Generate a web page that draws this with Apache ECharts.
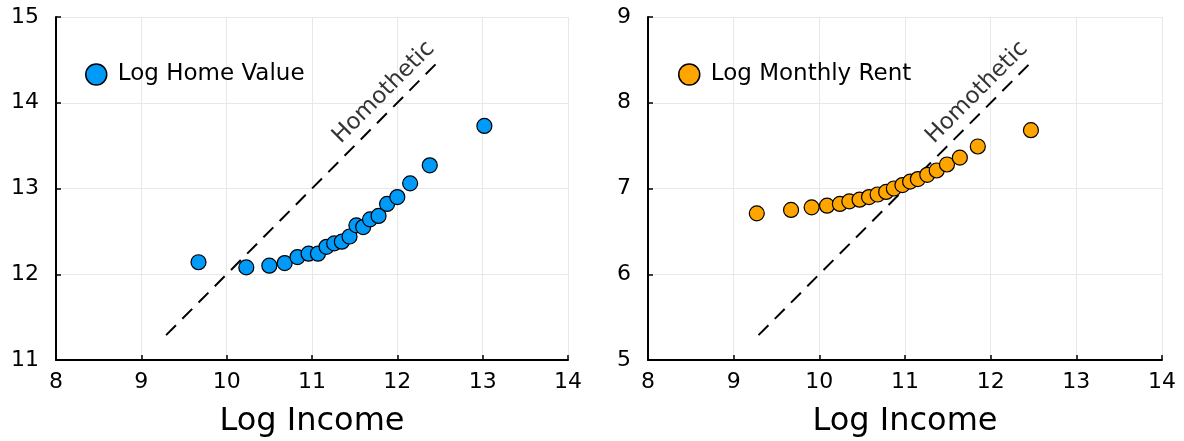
<!DOCTYPE html>
<html>
<head>
<meta charset="utf-8">
<script src="https://cdn.jsdelivr.net/npm/echarts@6/dist/echarts.min.js"></script>
<style>
  html, body { margin: 0; padding: 0; background: #fff; }
  #main { width: 1184px; height: 441px; }
</style>
</head>
<body>
<div id="main"></div>
<script>
// 左图：房价
const homeIncome = [9.67, 10.23, 10.50, 10.68, 10.83, 10.96, 11.07, 11.17, 11.26, 11.35,
    11.44, 11.52, 11.60, 11.68, 11.78, 11.88, 12.00, 12.15, 12.38, 13.02];
const homeValue = [12.14, 12.08, 12.10, 12.13, 12.20, 12.24, 12.24, 12.32, 12.36, 12.38,
    12.44, 12.57, 12.55, 12.64, 12.68, 12.82, 12.90, 13.06, 13.27, 13.73];

// 右图：租金
const rentIncome = [9.27, 9.67, 9.91, 10.09, 10.24, 10.35, 10.47, 10.58, 10.68, 10.78,
    10.87, 10.97, 11.06, 11.15, 11.26, 11.37, 11.49, 11.64, 11.85, 12.47];
const rentValue = [6.71, 6.75, 6.78, 6.80, 6.82, 6.85, 6.87, 6.90, 6.93, 6.96,
    7.00, 7.04, 7.08, 7.11, 7.16, 7.21, 7.28, 7.36, 7.49, 7.68];

// 同比例线 (斜率 1)
const homoX = [9.29, 12.47];
const homoHome = [11.29, 14.47];
const homoRent = [5.29, 8.47];
const homoLabelHome = [11.84, 14.12];
const homoLabelRent = [11.84, 8.12];

const xTicks = [8, 14, 1];
const yTicksHome = [11, 15, 1];
const yTicksRent = [5, 9, 1];

const blue = '#009af9';
const orange = '#ffa500';
const font = 'DejaVu Sans';

function zip(xs, ys) {
    return xs.map((x, i) => [x, ys[i]]);
}

function xAxisOpt(gridIndex) {
    return {
        type: 'value', gridIndex: gridIndex,
        min: xTicks[0], max: xTicks[1], interval: xTicks[2],
        name: 'Log Income', nameLocation: 'middle', nameGap: 46,
        nameTextStyle: { fontFamily: font, fontSize: 32, color: '#000' },
        axisLine: { show: true, onZero: false, lineStyle: { color: '#000', width: 2 } },
        axisTick: { show: true, inside: true, length: 5, lineStyle: { color: '#000', width: 1.5 } },
        axisLabel: { fontFamily: font, fontSize: 22, color: '#000', margin: 11 },
        splitLine: { show: true, lineStyle: { color: '#e8e8e8', width: 1 } }
    };
}

function yAxisOpt(gridIndex, t) {
    return {
        type: 'value', gridIndex: gridIndex,
        min: t[0], max: t[1], interval: t[2],
        axisLine: { show: true, onZero: false, lineStyle: { color: '#000', width: 2 } },
        axisTick: { show: true, inside: true, length: 5, lineStyle: { color: '#000', width: 1.5 } },
        axisLabel: { fontFamily: font, fontSize: 22, color: '#000', margin: 17 },
        splitLine: { show: true, lineStyle: { color: '#e8e8e8', width: 1 } }
    };
}

function scatterSeries(name, idx, data, color) {
    return {
        name: name, type: 'scatter', xAxisIndex: idx, yAxisIndex: idx,
        data: data, symbol: 'circle', symbolSize: 15,
        itemStyle: { color: color, borderColor: '#000', borderWidth: 1.2, opacity: 1 },
        z: 3
    };
}

function homoSeries(idx, ys) {
    return {
        type: 'line', xAxisIndex: idx, yAxisIndex: idx,
        data: zip(homoX, ys), symbol: 'none', silent: true,
        lineStyle: { color: '#000', width: 2, type: [14, 9] },
        z: 2
    };
}

function labelSeries(idx, pos) {
    return {
        type: 'scatter', xAxisIndex: idx, yAxisIndex: idx,
        data: [pos], symbolSize: 0, silent: true,
        label: {
            show: true, position: 'inside', rotate: 45,
            formatter: 'Homothetic', fontFamily: font, fontSize: 23, color: '#000'
        }
    };
}

const chart = echarts.init(document.getElementById('main'));
chart.setOption({
    backgroundColor: '#fff',
    animation: false,
    grid: [
        { left: 56, top: 17, width: 512, height: 343, outerBoundsMode: 'none' },
        { left: 648, top: 17, width: 514, height: 343, outerBoundsMode: 'none' }
    ],
    xAxis: [xAxisOpt(0), xAxisOpt(1)],
    yAxis: [yAxisOpt(0, yTicksHome), yAxisOpt(1, yTicksRent)],
    legend: [
        {
            data: ['Log Home Value'], left: 85, top: 63, padding: 0,
            itemWidth: 21, itemHeight: 21, icon: 'circle', itemGap: 4,
            itemStyle: { borderWidth: 1.5 },
            textStyle: { fontFamily: font, fontSize: 23, color: '#000', padding: [0, 0, 0, 6] }
        },
        {
            data: ['Log Monthly Rent'], left: 678, top: 63, padding: 0,
            itemWidth: 21, itemHeight: 21, icon: 'circle', itemGap: 4,
            itemStyle: { borderWidth: 1.5 },
            textStyle: { fontFamily: font, fontSize: 23, color: '#000', padding: [0, 0, 0, 6] }
        }
    ],
    series: [
        homoSeries(0, homoHome),
        labelSeries(0, homoLabelHome),
        scatterSeries('Log Home Value', 0, zip(homeIncome, homeValue), blue),
        homoSeries(1, homoRent),
        labelSeries(1, homoLabelRent),
        scatterSeries('Log Monthly Rent', 1, zip(rentIncome, rentValue), orange)
    ]
});
</script>
</body>
</html>
